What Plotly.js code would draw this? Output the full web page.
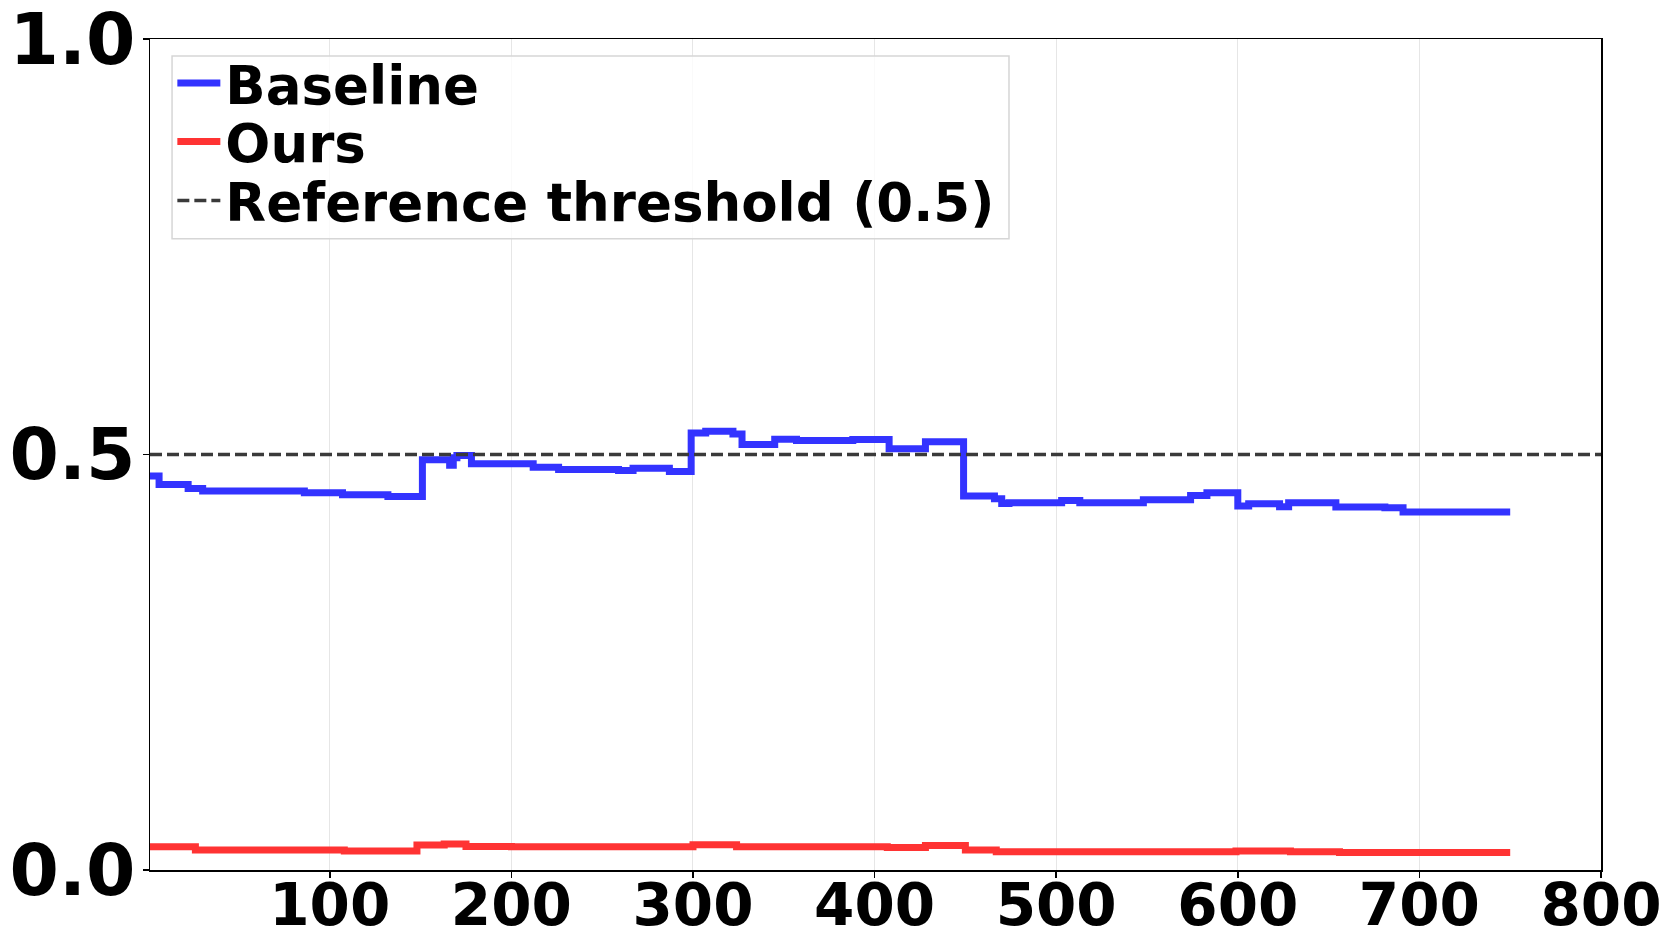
<!DOCTYPE html>
<html>
<head>
<meta charset="utf-8">
<script src="https://cdn.plot.ly/plotly-3.0.1.min.js"></script>
<style>html,body{margin:0;padding:0;background:#fff;}#chart{width:1674px;height:951px;}</style>
</head>
<body>
<div id="chart"></div>
<script>
// Step change points (x = step index, y = value), drawn as horizontal-then-vertical steps
const baselineX = [1, 6, 22, 30, 86, 107, 132, 151, 166, 168, 170, 178, 212, 226, 259, 267, 287, 299, 307, 322, 327, 345, 357, 388, 408, 428, 449, 466, 470, 474, 503, 513, 548, 574, 583, 600, 606, 623, 628, 654, 681, 691, 750];
const baselineY = [0.474, 0.464, 0.459, 0.456, 0.454, 0.4516, 0.4495, 0.4936, 0.487, 0.496, 0.4988, 0.4888, 0.4848, 0.482, 0.4808, 0.4836, 0.4796, 0.526, 0.528, 0.5248, 0.512, 0.5184, 0.5168, 0.518, 0.5068, 0.5152, 0.450, 0.4467, 0.441, 0.442, 0.4447, 0.442, 0.4455, 0.4507, 0.454, 0.4379, 0.4407, 0.437, 0.442, 0.4367, 0.4359, 0.4307, 0.4307];

const oursX = [1, 26, 108, 148, 163, 175, 200, 300, 324, 407, 428, 450, 467, 599, 629, 656, 750];
const oursY = [0.028, 0.024, 0.0228, 0.030, 0.0312, 0.0284, 0.028, 0.0305, 0.028, 0.0272, 0.0296, 0.024, 0.022, 0.0228, 0.022, 0.0212, 0.0212];

const thresholdValue = 0.5;
const xRange = [1, 800];
const xTicks = [100, 200, 300, 400, 500, 600, 700, 800];
const yTicks = [0.0, 0.5, 1.0];
const yTickLabels = ['0.0', '0.5', '1.0'];
const seriesNames = ['Baseline', 'Ours', 'Reference threshold (0.5)'];

const traces = [
  {x: baselineX, y: baselineY, type: 'scatter', mode: 'lines', name: seriesNames[0], legend: 'legend',
   line: {color: 'rgb(51,51,255)', width: 7, shape: 'hv'}},
  {x: oursX, y: oursY, type: 'scatter', mode: 'lines', name: seriesNames[1], legend: 'legend2',
   line: {color: 'rgb(255,51,51)', width: 7, shape: 'hv'}},
  {x: xRange, y: [thresholdValue, thresholdValue], type: 'scatter', mode: 'lines',
   name: seriesNames[2], legend: 'legend3',
   line: {color: '#3a3a3a', width: 3.5, dash: '12px,5px'}}
];

const legendFont = {family: 'DejaVu Sans', size: 53, weight: 'bold', color: '#000000'};
function legendAt(yPos) {
  return {
    x: 0.0154, y: yPos, xanchor: 'left', yanchor: 'middle',
    bgcolor: 'rgba(0,0,0,0)', borderwidth: 0, itemwidth: 43,
    font: legendFont
  };
}

const layout = {
  width: 1674, height: 951,
  margin: {l: 150, r: 73, t: 39, b: 81, pad: 0},
  paper_bgcolor: '#ffffff', plot_bgcolor: '#ffffff',
  font: {family: 'DejaVu Sans', color: '#000000'},
  showlegend: true,
  legend: legendAt(0.9470),
  legend2: legendAt(0.8766),
  legend3: legendAt(0.8055),
  shapes: [{
    type: 'rect', xref: 'paper', yref: 'paper', layer: 'above',
    x0: 0.0152, x1: 0.592, y0: 0.7596, y1: 0.9796,
    fillcolor: 'rgba(255,255,255,0.8)', line: {color: '#d6d6d6', width: 1.5}
  }],
  xaxis: {
    range: xRange, tickvals: xTicks, ticktext: xTicks.map(String),
    showgrid: true, gridcolor: '#e6e6e6', gridwidth: 1,
    zeroline: false, showline: true, linecolor: '#000000', linewidth: 1.5, mirror: true,
    ticks: 'outside', ticklen: 6, tickwidth: 1.5, tickcolor: '#000000',
    ticklabeloverflow: 'allow', ticklabelstandoff: -22,
    tickfont: {family: 'DejaVu Sans', size: 58, weight: 'bold', color: '#000000'}
  },
  yaxis: {
    range: [0, 1], tickvals: yTicks, ticktext: yTickLabels,
    showgrid: false, zeroline: false, showline: true, linecolor: '#000000', linewidth: 1.5, mirror: true,
    ticks: 'outside', ticklen: 6, tickwidth: 1.5, tickcolor: '#000000',
    ticklabeloverflow: 'allow', ticklabelstandoff: -7,
    tickfont: {family: 'DejaVu Sans', size: 71, weight: 'bold', color: '#000000'}
  }
};

Plotly.newPlot('chart', traces, layout, {displayModeBar: false, staticPlot: true});
</script>
</body>
</html>
